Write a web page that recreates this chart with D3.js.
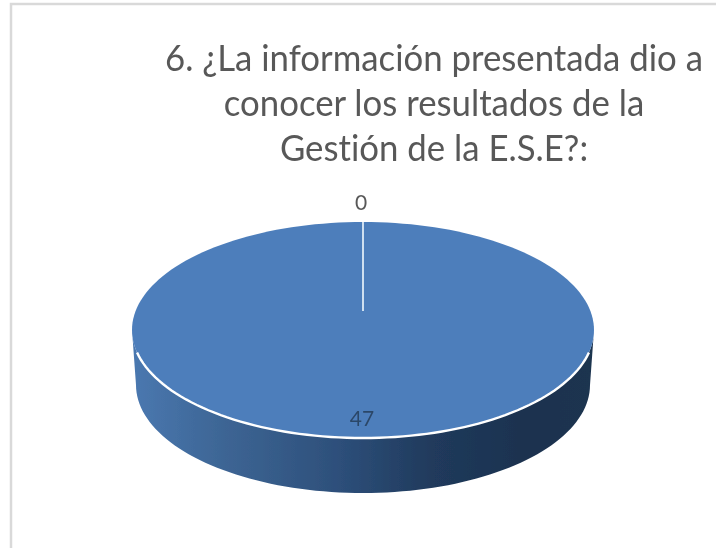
<!DOCTYPE html>
<html><head><meta charset="utf-8">
<script src="https://cdn.jsdelivr.net/npm/d3@7"></script>
<style>html,body{margin:0;padding:0;background:#fff}svg{display:block}</style></head>
<body><svg id="c" width="716" height="548"></svg>
<script>
const titleLines = ["6. ¿La información presentada dio a","conocer los resultados de la","Gestión de la E.S.E?:"];
const categories = ["Sí","No"];
const values = [47,0];

const svg = d3.select("#c");
const defs = svg.append("defs");
const grad = defs.append("linearGradient").attr("id","side").attr("x1","0").attr("x2","1").attr("y1","0").attr("y2","0");
[[0,"#4a78b0"],[0.2,"#3d6594"],[0.45,"#2d4f7a"],[0.65,"#203a5c"],[0.85,"#1c324f"],[1,"#1d3450"]]
  .forEach(d=>grad.append("stop").attr("offset",d[0]).attr("stop-color",d[1]));
const soft = defs.append("filter").attr("id","soft").attr("x","-5%").attr("y","-5%").attr("width","110%").attr("height","110%");
soft.append("feGaussianBlur").attr("stdDeviation",0.45);

// frame
svg.append("rect").attr("x",11).attr("y",4).attr("width",800).attr("height",700)
  .attr("fill","#fff").attr("stroke","#d9d9d9").attr("stroke-width",2.5);

// title
const titleX = 434, titleY = [71,116,161], squeeze = 0.94;
svg.append("g").attr("filter","url(#soft)").selectAll("text").data(titleLines).join("text")
  .attr("transform",(d,i)=>`translate(${titleX},${titleY[i]}) scale(${squeeze},1)`)
  .attr("text-anchor","middle").attr("fill","#595959")
  .style("font-variant-ligatures","none")
  .attr("font-family","Lato, 'Open Sans', sans-serif").attr("font-size",37)
  .text(d=>d);

// pie
const x = d3.scaleLinear().domain([-1,1]).range([132,594]);
const y = d3.scaleLinear().domain([-1,1]).range([222,438]);
const xLow = d3.scaleLinear().domain([-1,1]).range([136,590]);
const yLow = d3.scaleLinear().domain([-1,1]).range([277,493]);
const pieData = d3.pie().sort(null)(values);
const hubY = 311;
const angles = d3.range(0,361,2).map(d=>d*Math.PI/180);
const topEdge = d3.line().x(a=>x(Math.sin(a))).y(a=>y(-Math.cos(a)));
const lowEdge = d3.line().x(a=>xLow(Math.sin(a))).y(a=>yLow(-Math.cos(a)));
const lower = angles.filter(a=>a>=Math.PI/2-1e-6 && a<=Math.PI*1.5+1e-6);

const pieG = svg.append("g").attr("filter","url(#soft)");
const sidePath = topEdge(lower)+"L"+lowEdge(lower.slice().reverse()).slice(1)+"Z";
pieG.append("path").attr("d",sidePath).attr("fill","url(#side)");
pieG.append("path").attr("d",topEdge(angles)+"Z").attr("fill","#4d7ebb");
pieG.append("path").attr("d",topEdge(lower.filter(a=>a>Math.PI*0.56&&a<Math.PI*1.44))).attr("fill","none").attr("stroke","#fff").attr("stroke-width",2.4);

// slice boundary for the zero-value slice, taken from the pie layout
const s = pieData[1];
pieG.append("line")
  .attr("x1",x(0)).attr("y1",hubY)
  .attr("x2",x(Math.sin(s.startAngle))).attr("y2",y(-Math.cos(s.startAngle)))
  .attr("stroke","#cfe0f0").attr("stroke-width",2);

// data labels
const labelPos = [[362,426],[361,210]];
svg.append("g").attr("filter","url(#soft)").selectAll("text").data(values).join("text")
  .attr("x",(d,i)=>labelPos[i][0]).attr("y",(d,i)=>labelPos[i][1])
  .attr("text-anchor","middle").attr("font-family","Lato, sans-serif").attr("font-size",21)
  .attr("fill",(d,i)=>i==0?"#2b4768":"#595959").text(d=>d);
</script></body></html>
